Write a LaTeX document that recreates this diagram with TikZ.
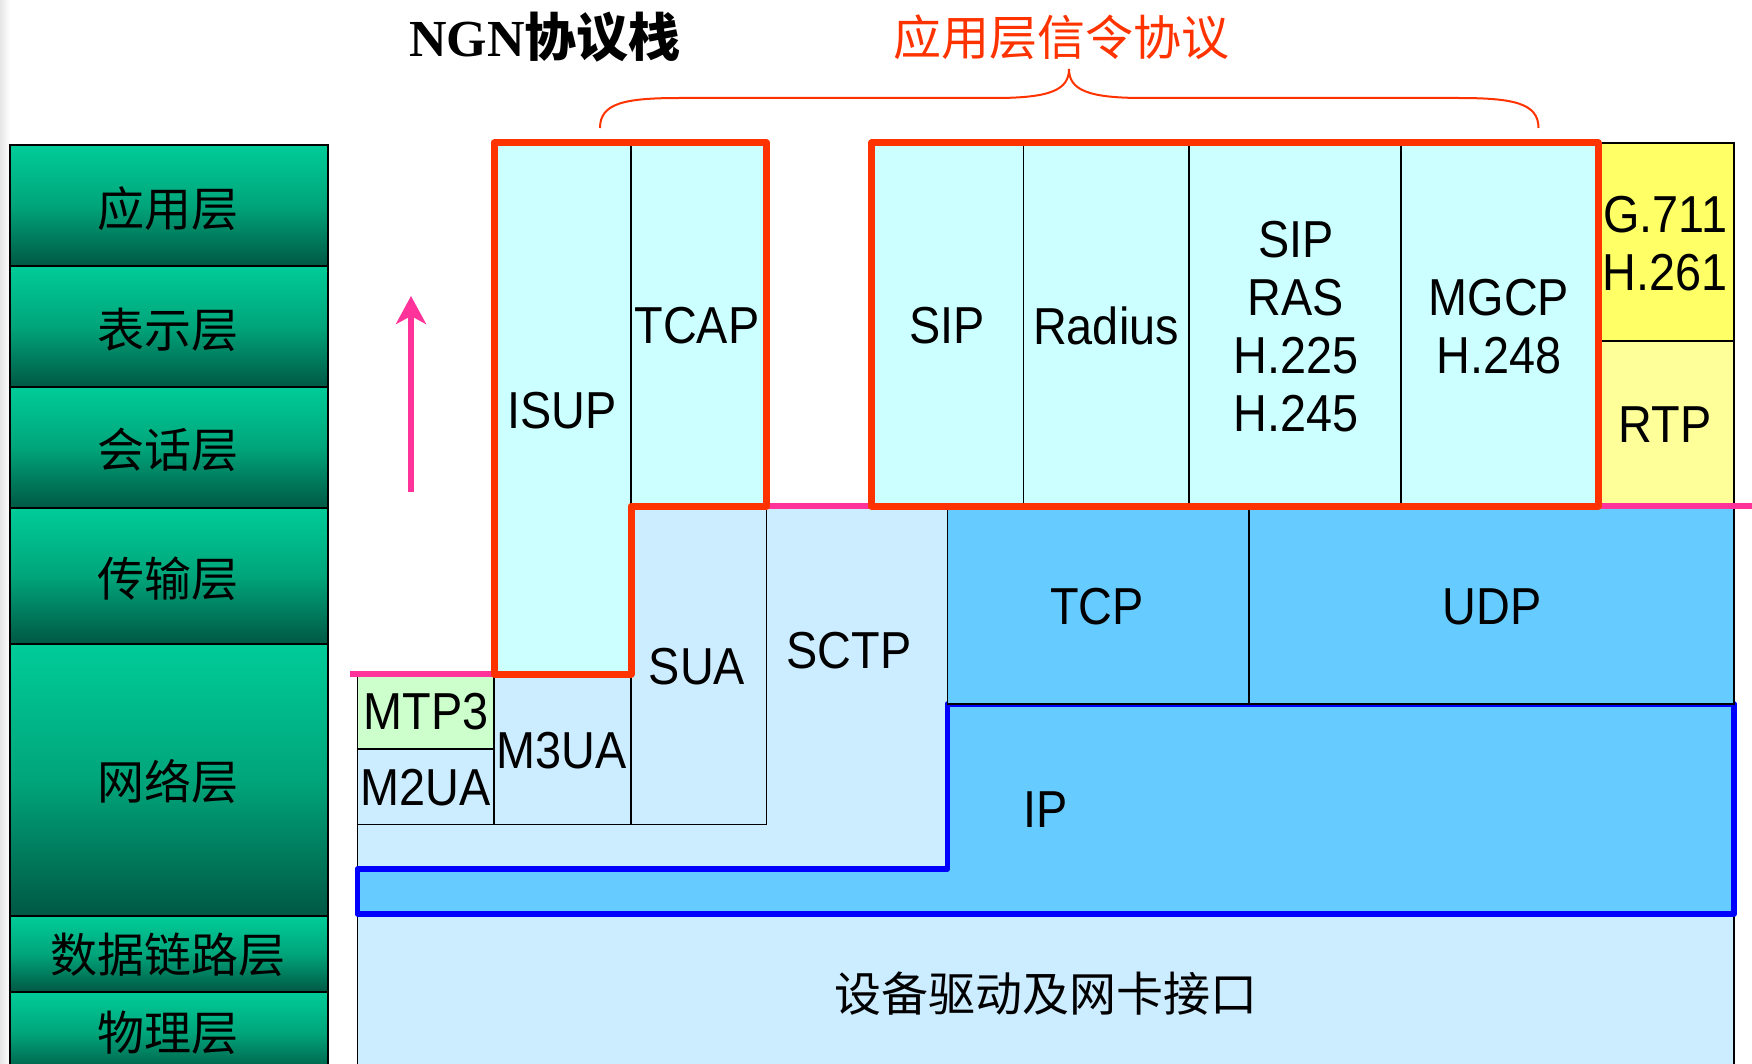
\documentclass[tikz,border=0pt]{standalone}
\usepackage{fontspec}
\setmainfont{Liberation Sans}
\newfontfamily\lab[FakeStretch=0.9]{Liberation Sans}
\newfontfamily\cjkf{Noto Sans CJK SC}
\newfontfamily\serifb{Liberation Serif}
\usetikzlibrary{fit,arrows.meta}
\definecolor{redc}{RGB}{255,51,0}
\definecolor{bluec}{RGB}{0,0,255}
\definecolor{pinkc}{RGB}{255,51,153}
\definecolor{appc}{RGB}{204,255,255}
\definecolor{lowc}{RGB}{204,236,255}
\definecolor{ipc}{RGB}{102,204,255}
\definecolor{greenc}{RGB}{204,255,204}
\definecolor{yelA}{RGB}{255,255,102}
\definecolor{yelB}{RGB}{255,255,153}
\definecolor{tealt}{RGB}{0,204,153}
\definecolor{tealm}{RGB}{0,165,122}
\definecolor{tealb}{RGB}{0,88,68}
\begin{document}
\begin{tikzpicture}[x=0.5pt,y=-0.5pt,
  layerbox/.style={draw=black, line width=1pt, top color=tealt, bottom color=tealb, middle color=tealm, inner sep=0pt, outer sep=0pt},
  layertext/.style={inner sep=0pt, font=\cjkf\fontsize{23.5}{26}\selectfont},
  cellbox/.style={draw=black, line width=0.8pt, inner sep=0pt, outer sep=0pt},
  labtext/.style={inner sep=0pt, align=center, font=\lab\fontsize{26}{29}\selectfont},
  redline/.style={draw=redc, line width=3.5pt, line join=round},
  pinkline/.style={draw=pinkc, line width=3pt},
  blueline/.style={draw=bluec, line width=2.8pt, line join=round}
]
\useasboundingbox (0,0) rectangle (1752,1064);
\fill[white] (0,0) rectangle (1752,1064);
\shade[left color=black!10, right color=white] (0,0) rectangle (10,1064);

% left layer column
\node[layerbox, fit={(10,145) (328,266)}] (L1) {};
\node[layerbox, fit={(10,266) (328,387)}] (L2) {};
\node[layerbox, fit={(10,387) (328,508)}] (L3) {};
\node[layerbox, fit={(10,508) (328,644)}] (L4) {};
\node[layerbox, fit={(10,644) (328,916)}] (L5) {};
\node[layerbox, fit={(10,916) (328,992)}] (L6) {};
\node[layerbox, fit={(10,992) (328,1074)}] (L7) {};
\node[layertext] (L1t) at (168,209) {应用层};
\node[layertext] (L2t) at (168,330) {表示层};
\node[layertext] (L3t) at (168,450) {会话层};
\node[layertext] (L4t) at (168,579) {传输层};
\node[layertext] (L5t) at (168,782) {网络层};
\node[layertext] (L6t) at (168,955) {数据链路层};
\node[layertext] (L7t) at (168,1033) {物理层};

% titles
\node[inner sep=0pt, font=\fontsize{26}{29}\selectfont] (title) at (545,37) {{\serifb\bfseries NGN}{\cjkf\bfseries 协议栈}};
\node[inner sep=0pt, text=redc, font=\cjkf\fontsize{24}{26}\selectfont] (rtitle) at (1061,37) {应用层信令协议};

% brace
\draw[redc, line width=1pt] (600,128) .. controls (600,103) and (625,98) .. (680,98) -- (995,98) .. controls (1050,98) and (1069,90) .. (1069,69);
\draw[redc, line width=1pt] (1538.5,128) .. controls (1538.5,103) and (1513,98) .. (1458,98) -- (1143,98) .. controls (1088,98) and (1069,90) .. (1069,69);

% bottom device box
\node[cellbox, fill=lowc, fit={(357.5,914) (1734,1075)}] (dev) {};
\node[layertext] (devt) at (1046,994) {设备驱动及网卡接口};

% light blue SCTP region
\filldraw[fill=lowc, draw=black, line width=0.8pt] (357.5,674) -- (631,674) -- (631,506) -- (947.5,506) -- (947.5,869) -- (357.5,869) -- cycle;
\node[labtext] (sctp) at (849,651) {SCTP};

% IP region
\filldraw[fill=ipc, blueline] (947.5,704) -- (1734,704) -- (1734,914) -- (357.5,914) -- (357.5,869) -- (947.5,869) -- cycle;
\node[labtext] (ip) at (1046,810) {IP};

% TCP / UDP
\node[cellbox, fill=ipc, fit={(947.5,506) (1249,704)}] (tcp) {};
\node[cellbox, fill=ipc, fit={(1249,506) (1734,704)}] (udp) {};
\node[labtext] (tcpt) at (1097,607) {TCP};
\node[labtext] (udpt) at (1492,607) {UDP};

% lower signalling adaptation boxes
\node[cellbox, fill=greenc, fit={(357.5,674) (494,749)}] (mtp3) {};
\node[cellbox, fill=lowc, fit={(357.5,749) (494,824.5)}] (m2ua) {};
\node[cellbox, fill=lowc, fit={(494,674) (631,824.5)}] (m3ua) {};
\node[cellbox, fill=lowc, fit={(631,506) (766.5,824.5)}] (sua) {};
\node[labtext] (mtp3t) at (426,712) {MTP3};
\node[labtext] (m2uat) at (426,788) {M2UA};
\node[labtext] (m3uat) at (562,751) {M3UA};
\node[labtext] (suat) at (697,667) {SUA};

% application cells
\node[cellbox, fill=appc, fit={(494,143) (631,674)}] (isup) {};
\node[cellbox, fill=appc, fit={(631,143) (766.5,506)}] (tcap) {};
\node[cellbox, fill=appc, fit={(871.5,143) (1023.5,506)}] (sip) {};
\node[cellbox, fill=appc, fit={(1023.5,143) (1189,506)}] (radius) {};
\node[cellbox, fill=appc, fit={(1189,143) (1401,506)}] (h323) {};
\node[cellbox, fill=appc, fit={(1401,143) (1598,506)}] (mgcp) {};
\node[cellbox, fill=yelA, fit={(1598,143) (1734,341)}] (g711) {};
\node[cellbox, fill=yelB, fit={(1598,341) (1734,506)}] (rtp) {};
\node[labtext] (isupt) at (562,411) {ISUP};
\node[labtext] (tcapt) at (697,326) {TCAP};
\node[labtext] (sipt) at (947,326) {SIP};
\node[labtext] (radiust) at (1106,326) {Radius};
\node[labtext] (h323t) at (1296,327) {SIP\\RAS\\H.225\\H.245};
\node[labtext] (mgcpt) at (1499,327) {MGCP\\H.248};
\node[labtext] (g711t) at (1665,244) {G.711\\H.261};
\node[labtext] (rtpt) at (1665,425) {RTP};

% pink boundary lines
\draw[pinkline] (350,674) -- (isup.south west);
\draw[pinkline] (tcap.south east) -- (sip.south west);
\draw[pinkline] (rtp.south west) -- (1752,506);

% red outlines
\draw[redline] (isup.south west) -- (isup.north west) -- (tcap.north east) -- (tcap.south east) -- (sua.north west) -- (isup.south east) -- cycle;
\draw[redline] (sip.north west) rectangle (mgcp.south east);

% pink arrow
\coordinate (arrA) at (411,492);
\coordinate (arrB) at (411,296);
\draw[pinkc, line width=3pt, -{Stealth[length=14pt, width=15pt, inset=4pt]}] (arrA) -- (arrB);
\end{tikzpicture}
\end{document}
